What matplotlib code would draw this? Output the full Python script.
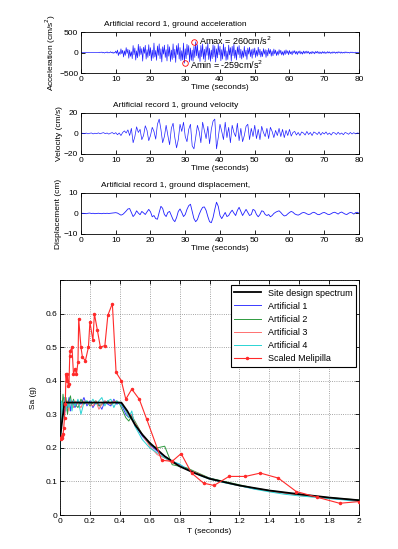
import numpy as np
import matplotlib
matplotlib.use('Agg')
import matplotlib.pyplot as plt

plt.rcParams['font.family'] = ['Liberation Sans', 'DejaVu Sans']
plt.rcParams['font.size'] = 6

# ---- time histories ----
acc_dt = 0.25
acc = [
    0, 1, 0, -1, 1, 2, -1, 0, 1, -2, 1, 0, -1, 2, -1, 1, 0, -2, 1, -1,
    3, -5, 8, -2, 12, -9, 4, -14, 6, -3, 15, -11, 2, -8, 18, -6, 10, -20, 7, -12,
    35, -20, 60, -75, 15, -45, 90, -30, 55, -110, 40, -70, 120, -25, 80, -140, 60, -95, 20, -150,
    170, -60, 110, -185, 40, -130, 200, -90, 150, -50, 95, -210, 130, -20, 175, -160, 70, -120, 190, -80,
    120, -200, 60, -140, 230, -110, 50, -190, 160, -70, 210, -150, 90, -230, 140, -40, 180, -120, 70, -205,
    195, -90, 140, -220, 60, -170, 210, -130, 80, -240, 170, -50, 220, -160, 120, -200, 45, -180, 230, -259,
    90, -150, 200, -60, 170, -230, 110, -190, 60, -210, 150, -120, 260, -80, 190, -140, 50, -220, 170, -100,
    210, -160, 80, -200, 140, -70, 230, -170, 100, -215, 60, -150, 190, -110, 160, -230, 90, -130, 200, -60,
    150, -200, 70, -160, 210, -90, 130, -190, 40, -170, 180, -60, 120, -210, 150, -80, 200, -140, 60, -180,
    140, -50, 170, -130, 80, -160, 40, -120, 150, -90, 60, -170, 110, -40, 130, -100, 70, -140, 90, -60,
    110, -120, 50, -90, 130, -60, 80, -110, 30, -100, 95, -40, 70, -120, 60, -85, 100, -30, 75, -90,
    40, -80, 85, -35, 60, -75, 25, -65, 70, -30, 55, -60, 20, -70, 45, -50, 65, -25, 40, -55,
    50, -30, 20, -55, 40, -15, 45, -35, 25, -50, 30, -20, 40, -35, 15, -40, 35, -25, 30, -20,
    35, -15, 25, -35, 10, -30, 28, -20, 15, -32, 25, -10, 30, -22, 18, -28, 12, -25, 22, -15,
    20, -25, 10, -18, 24, -12, 16, -22, 8, -20, 18, -10, 14, -20, 10, -16, 20, -8, 15, -18,
    12, -15, 6, -14, 16, -8, 12, -10, 5, -14, 10, -6, 12, -9, 4, -10, 8, -5, 6, -4, 0,
]
amax_t, amax = 32.5, 260
amin_t, amin = 29.8, -259

vd_dt = 0.5
vel = [
    0, 0.3, -0.2, 0.4, -0.3, 0.2, 0.5, -0.4, 0.3, -0.2, 0.6, -0.3, 0.4, 0.8, -0.2, 0.5, -0.6, 0.3, 0.9, -0.4,
    0.8, -1.2, 0.5, -2.0, 1.0, 2.5, 0.5, 3.5, -2.0, 5.0, -9.0, -3.0, 6.5, 1.0, 4.0, -6.0, -2.0, 7.5, 3.0, -7.0,
    -2.0, 6.0, 2.0, -5.5, 9.0, 14.0, 4.0, -9.0, -3.0, 8.0, -2.0, -11.0, 5.0, 10.0, -4.0, -14.0, -6.0, 9.0, 2.0, 11.0,
    -3.0, -8.0, 4.0, 9.0, -12.0, -15.0, -4.0, 8.0, 2.0, -9.0, 11.0, 3.0, -5.0, 7.0, -10.0, 4.0, 12.0, 14.0, -15.0, -4.0,
    9.0, 2.0, -6.0, 11.0, -4.0, 6.0, -9.0, 8.0, 1.0, -3.0, 10.0, -7.0, 5.0, -8.0, -2.0, 7.0, 9.0, -6.0, 5.0, -3.0,
    8.0, -5.0, 4.0, -6.0, 7.0, 1.0, -3.0, 5.0, -5.0, 6.0, 2.0, -4.0, 3.0, -2.0, 5.0, -3.0, 4.0, -4.0, 3.0, -2.0,
    4.0, -2.5, 1.0, 2.0, -1.5, 1.0, -2.0, 1.5, 0.5, -1.5, 2.0, -1.0, 1.0, -2.0, 1.5, 0.5, -1.0, 1.5, -1.5, 1.0,
    -0.5, 1.5, -1.0, 0.5, -1.5, 1.0, 0.5, -1.0, 1.2, -0.8, 0.5, -1.2, 1.0, 0.3, -0.8, 1.0, -0.5, 0.8, -0.4, 0.5, 0.2,
]
disp = [
    0, 0.1, 0, -0.1, 0.1, 0.2, 0, 0.1, -0.1, 0, 0.1, 0, -0.1, 0.1, 0, 0.1, 0, 0.1, 0.2, 0.3,
    0.4, 0.2, -0.3, -0.8, -0.5, 0.3, 1.2, 2.2, 2.4, 0.5, -1.5, -0.5, 1.3, 0.2, -0.6, 1.0, 0.3, -0.5, 0.8, 2.0,
    0.8, -1.6, -1.0, -2.5, -2.8, 0.5, 3.5, 2.5, -0.5, -1.5, 0.5, 1.0, -1.0, -3.0, -4.0, -2.0, 1.0, 2.2, 0.5, -1.5,
    -0.5, 2.0, 3.8, 4.5, 1.0, -2.5, -4.0, -3.0, -0.5, 1.5, 3.0, 3.2, 1.5, -1.5, -4.0, -4.5, -2.0, 2.0, 5.5, 3.5,
    -1.0, -2.5, -1.0, 0.5, -1.5, -1.0, 0.5, 1.6, 0.2, -1.0, 1.5, 3.0, 1.0, -1.0, 0.5, 2.0, 0.5, -1.0, -0.5, 2.0,
    1.5, -0.5, -1.6, -0.5, 1.3, 1.0, -0.5, -1.0, -0.5, -1.6, -1.0, 0.0, 0.6, 1.0, 1.3, 0.5, -0.5, -1.2, -1.0, -0.2,
    0.5, 1.0, 0.6, -0.2, -0.6, -0.8, -0.4, 0.2, 0.5, 0.3, -0.2, -0.5, -0.3, 0.3, 0.6, 0.2, -0.4, -0.6, -0.2, 0.3,
    0.5, 0.1, -0.4, -0.5, -0.1, 0.4, 0.6, 0.2, -0.3, 0.4, 0.7, 0.2, -0.3, -0.5, 0.1, 0.5, 0.3, -0.3, 0.4, 0.6, 0.1,
]

# ---- response spectra ----
T_des = [0, 0.03, 0.1, 0.2, 0.3, 0.41, 0.45, 0.5, 0.55, 0.6, 0.7, 0.8, 0.9, 1.0, 1.2, 1.4, 1.6, 1.8, 2.0]
Sa_des = [0.23, 0.335, 0.335, 0.335, 0.335, 0.335, 0.31, 0.27, 0.24, 0.215, 0.175, 0.145, 0.125, 0.108,
          0.088, 0.073, 0.062, 0.052, 0.044]

T_art = [0, 0.01, 0.02, 0.03, 0.04, 0.05, 0.06, 0.07, 0.08, 0.09, 0.1,
         0.12, 0.14, 0.16, 0.18, 0.2, 0.22, 0.24, 0.26, 0.28, 0.3, 0.32, 0.34, 0.36, 0.38, 0.4,
         0.42, 0.44, 0.46, 0.48, 0.5,
         0.55, 0.6, 0.65, 0.7, 0.75, 0.8, 0.85, 0.9, 0.95, 1.0,
         1.1, 1.2, 1.3, 1.4, 1.5, 1.6, 1.7, 1.8, 1.9, 2.0]
art1 = [0.2, 0.31, 0.33, 0.30, 0.34, 0.32, 0.35, 0.31, 0.34, 0.33, 0.32,
        0.34, 0.33, 0.35, 0.325, 0.34, 0.32, 0.335, 0.33, 0.315, 0.34, 0.33, 0.325, 0.345, 0.33, 0.335,
        0.32, 0.30, 0.29, 0.30, 0.27,
        0.235, 0.21, 0.19, 0.175, 0.16, 0.15, 0.138, 0.127, 0.118, 0.11,
        0.098, 0.088, 0.078, 0.072, 0.066, 0.06, 0.055, 0.05, 0.046, 0.042]
art2 = [0.18, 0.30, 0.36, 0.32, 0.35, 0.30, 0.34, 0.355, 0.32, 0.345, 0.33,
        0.32, 0.345, 0.33, 0.34, 0.325, 0.335, 0.34, 0.325, 0.33, 0.335, 0.34, 0.33, 0.335, 0.34, 0.33,
        0.31, 0.29, 0.28, 0.295, 0.28,
        0.24, 0.21, 0.2, 0.205, 0.15, 0.145, 0.14, 0.13, 0.12, 0.11,
        0.10, 0.09, 0.08, 0.073, 0.067, 0.06, 0.056, 0.052, 0.048, 0.045]
art3 = [0.22, 0.33, 0.31, 0.35, 0.32, 0.34, 0.31, 0.345, 0.33, 0.32, 0.34,
        0.33, 0.32, 0.34, 0.335, 0.33, 0.325, 0.34, 0.315, 0.33, 0.34, 0.335, 0.33, 0.34, 0.335, 0.335,
        0.33, 0.31, 0.29, 0.30, 0.275,
        0.24, 0.205, 0.18, 0.17, 0.155, 0.148, 0.135, 0.128, 0.118, 0.108,
        0.097, 0.087, 0.079, 0.071, 0.065, 0.058, 0.054, 0.05, 0.047, 0.043]
art4 = [0.17, 0.34, 0.30, 0.35, 0.31, 0.335, 0.32, 0.345, 0.31, 0.34, 0.325,
        0.345, 0.30, 0.335, 0.34, 0.33, 0.345, 0.33, 0.34, 0.35, 0.325, 0.34, 0.345, 0.32, 0.34, 0.33,
        0.325, 0.31, 0.29, 0.31, 0.265,
        0.225, 0.2, 0.185, 0.17, 0.16, 0.152, 0.135, 0.125, 0.115, 0.107,
        0.096, 0.087, 0.077, 0.069, 0.062, 0.057, 0.053, 0.049, 0.045, 0.04]

T_mel = [0, 0.005, 0.01, 0.015, 0.02, 0.025, 0.03, 0.035, 0.04, 0.045, 0.05, 0.055, 0.06, 0.065, 0.07,
         0.08, 0.09, 0.1, 0.11, 0.12, 0.125, 0.14, 0.15, 0.17, 0.19, 0.2, 0.22, 0.23, 0.25, 0.27, 0.3,
         0.32, 0.35, 0.375, 0.41, 0.44, 0.48, 0.53, 0.58, 0.68, 0.75, 0.81, 0.88, 0.96, 1.03, 1.13,
         1.24, 1.34, 1.46, 1.58, 1.72, 1.87, 2.0]
Sa_mel = [0.23, 0.225, 0.23, 0.235, 0.24, 0.26, 0.29, 0.33, 0.42, 0.40, 0.42, 0.385, 0.39, 0.475, 0.49,
          0.50, 0.42, 0.435, 0.42, 0.455, 0.585, 0.50, 0.47, 0.46, 0.50, 0.575, 0.52, 0.60, 0.55, 0.50, 0.505,
          0.595, 0.63, 0.425, 0.40, 0.345, 0.375, 0.345, 0.285, 0.163, 0.16, 0.183, 0.125, 0.095, 0.088, 0.115,
          0.115, 0.125, 0.11, 0.07, 0.053, 0.035, 0.04]


def style_box(ax):
	ax.tick_params(direction='in', top=True, right=True, length=3, width=0.6, labelsize=6, pad=2)
	for s in ax.spines.values():
		s.set_linewidth(0.6)


fig = plt.figure(figsize=(3.98, 5.49), dpi=100)

blue = '#1f1fff'

# acceleration
ax1 = fig.add_axes([0.2035, 0.867, 0.6985, 0.0747])
t_acc = np.arange(len(acc)) * acc_dt
ax1.plot(t_acc, acc, color=blue, lw=0.5)
ax1.plot([amax_t], [amax], 'o', mfc='none', mec='red', ms=4, mew=0.6)
ax1.plot([amin_t], [amin], 'o', mfc='none', mec='red', ms=4, mew=0.6)
ax1.text(amax_t + 1.5, amax + 20, 'Amax = 260cm/s$^2$', fontsize=6.5, va='center')
ax1.text(amin_t + 1.5, amin - 40, 'Amin = -259cm/s$^2$', fontsize=6.5, va='center')
ax1.set_xlim(0, 80)
ax1.set_ylim(-500, 500)
ax1.set_yticks([-500, 0, 500])
ax1.set_ylabel('Acceleration (cm/s$^2$)', fontsize=6, labelpad=1)
ax1.set_xlabel('Time (seconds)', fontsize=6, labelpad=1)
ax1.text(0.34, 1.1, 'Artificial record 1, ground acceleration', transform=ax1.transAxes,
         ha='center', va='bottom', fontsize=6)
style_box(ax1)

# velocity
ax2 = fig.add_axes([0.2035, 0.7195, 0.6985, 0.0747])
t_vd = np.arange(len(vel)) * vd_dt
ax2.plot(t_vd, vel, color=blue, lw=0.5)
ax2.set_xlim(0, 80)
ax2.set_ylim(-20, 20)
ax2.set_yticks([-20, 0, 20])
ax2.set_ylabel('Velocity (cm/s)', fontsize=6, labelpad=1)
ax2.set_xlabel('Time (seconds)', fontsize=6, labelpad=1)
ax2.text(0.34, 1.1, 'Artificial record 1, ground velocity', transform=ax2.transAxes,
         ha='center', va='bottom', fontsize=6)
style_box(ax2)

# displacement
ax3 = fig.add_axes([0.2035, 0.5738, 0.6985, 0.0747])
ax3.plot(t_vd, disp, color=blue, lw=0.6)
ax3.set_xlim(0, 80)
ax3.set_ylim(-10, 10)
ax3.set_yticks([-10, 0, 10])
ax3.set_ylabel('Displacement (cm)', fontsize=6, labelpad=1)
ax3.set_xlabel('Time (seconds)', fontsize=6, labelpad=1)
ax3.text(0.34, 1.1, 'Artificial record 1, ground displacement,', transform=ax3.transAxes,
         ha='center', va='bottom', fontsize=6)
style_box(ax3)

# spectra
ax4 = fig.add_axes([0.1508, 0.0619, 0.7513, 0.428])
ax4.plot(T_des, Sa_des, color='black', lw=1.3, label='Site design spectrum', zorder=5)
ax4.plot(T_art, art1, color='#3b3bff', lw=0.7, label='Artificial 1')
ax4.plot(T_art, art2, color='#2e9a3e', lw=0.7, label='Artificial 2')
ax4.plot(T_art, art3, color='#ff7070', lw=0.7, label='Artificial 3')
ax4.plot(T_art, art4, color='#2ad4d4', lw=0.7, label='Artificial 4')
ax4.plot(T_mel, Sa_mel, color='#ff2a2a', lw=0.8, marker='.', ms=3, label='Scaled Melipilla', zorder=6)
ax4.set_xlim(0, 2)
ax4.set_ylim(0, 0.7)
ax4.set_xticks(np.arange(0, 2.01, 0.2))
ax4.set_xticklabels(['0', '0.2', '0.4', '0.6', '0.8', '1', '1.2', '1.4', '1.6', '1.8', '2'])
ax4.set_yticks([0, 0.1, 0.2, 0.3, 0.4, 0.5, 0.6, 0.7])
ax4.set_yticklabels(['0', '0.1', '0.2', '0.3', '0.4', '0.5', '0.6', ''])
ax4.grid(True, ls=':', color='#888888', lw=0.6)
ax4.set_xlabel('T (seconds)', fontsize=6, labelpad=2)
ax4.set_ylabel('Sa (g)', fontsize=6, labelpad=6)
style_box(ax4)
leg = ax4.legend(loc='upper right', fontsize=6.5, fancybox=False, framealpha=1, edgecolor='black',
                 handlelength=2.9, borderpad=0.4, labelspacing=0.45, borderaxespad=0,
                 bbox_to_anchor=(0.99, 0.979))
leg.get_frame().set_linewidth(0.8)

fig.savefig('out.png', dpi=100)
